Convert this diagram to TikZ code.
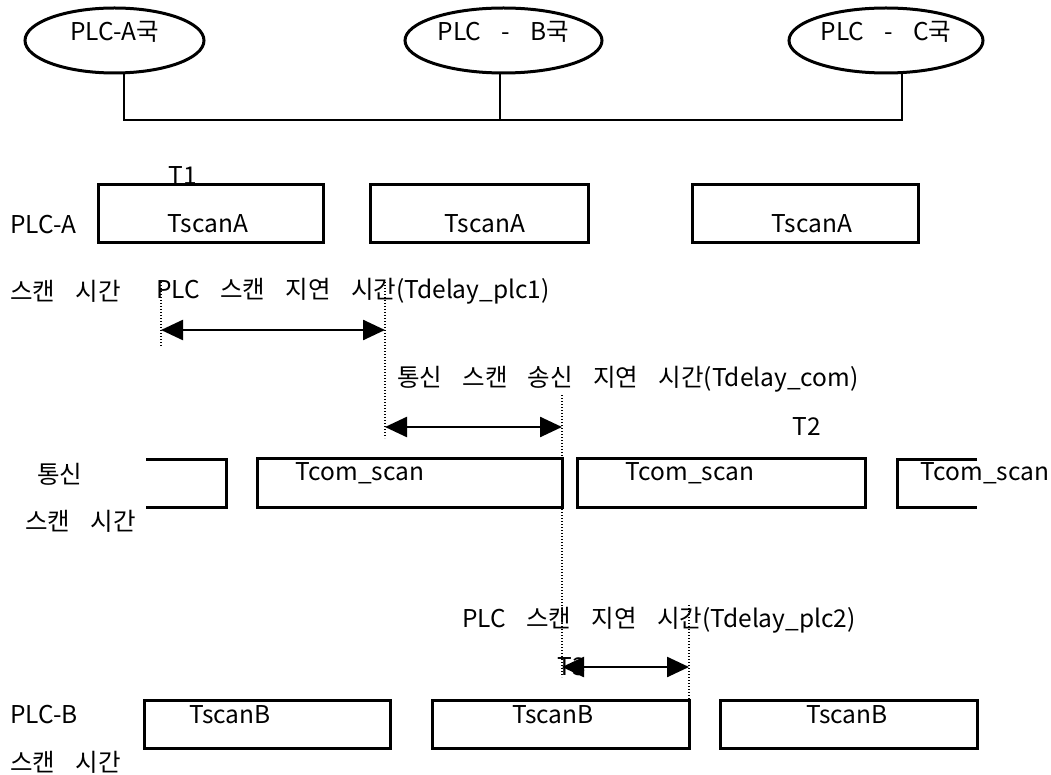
\documentclass[tikz,border=0pt]{standalone}
\usepackage{fontspec}
\setmainfont[WordSpace=3.7]{Noto Sans CJK KR}
\usepackage{tikz}
\usetikzlibrary{shapes.geometric, arrows.meta, positioning}

\begin{document}
\begin{tikzpicture}[
    x=1pt, y=-1pt,
    font=\fontsize{24.5}{29}\selectfont,
    station/.style={ellipse, draw=black, line width=3pt, inner sep=0pt,
                    minimum height=65pt, text height=8pt, text depth=8pt},
    frame/.style={draw=black, line width=3pt},
    scanbox/.style={rectangle, frame, inner sep=0pt},
    txt/.style={inner sep=0pt, text height=17.6pt, text depth=0pt},
    bus/.style={line width=1.8pt},
    marker/.style={line width=1.1pt, dash pattern=on 1.2pt off 1.8pt},
    span/.style={{Triangle[length=22pt,width=20pt]}-{Triangle[length=22pt,width=20pt]},
                 line width=2.5pt}
]
\useasboundingbox (0,0) rectangle (1051,775);

% stations and the network line
\node[station, minimum width=179pt] (staA) at (114.5,40.5) {PLC-A국};
\node[station, minimum width=197pt] (staB) at (503.5,40.5) {PLC - B국};
\node[station, minimum width=194pt] (staC) at (886,40.5) {PLC - C국};

\coordinate (tapA) at (124,120);
\coordinate (tapB) at (500,120);
\coordinate (tapC) at (902,120);
\draw[bus] (staA.south -| tapA) -- (tapA) -- (tapC) -- (staC.south -| tapC);
\draw[bus] (staB.south -| tapB) -- (tapB);

% PLC-A scan
\node[txt, anchor=west] (plcA) at (10,225) {PLC-A};
\node[txt, anchor=west] (plcAsub) at (10,292) {스캔 시간};
\node[scanbox, minimum width=225pt, minimum height=58pt] (a1) at (210.5,214) {};
\node[scanbox, minimum width=218pt, minimum height=58pt] (a2) at (479,214) {};
\node[scanbox, minimum width=226pt, minimum height=58pt] (a3) at (805,214) {};
\node[txt] (a1t) at (208,224) {TscanA};
\node[txt] (a2t) at (485,224) {TscanA};
\node[txt] (a3t) at (812,224) {TscanA};
\node[txt] (t1) at (183,176) {T1};

% communication scan
\node[txt, anchor=west] (com) at (37,475) {통신};
\node[txt, anchor=west] (comsub) at (25,522) {스캔 시간};
\draw[frame] (146,459) -- (226,459) -- (226,507) -- (146,507);
\node[scanbox, minimum width=305pt, minimum height=49pt] (c2) at (409.5,482.5) {};
\node[scanbox, minimum width=288pt, minimum height=49pt] (c3) at (721,482.5) {};
\draw[frame] (977,459) -- (897,459) -- (897,507) -- (977,507);
\node[txt] (c2t) at (360,472) {Tcom\_scan};
\node[txt] (c3t) at (690,472) {Tcom\_scan};
\node[txt] (c4t) at (985,472) {Tcom\_scan};
\node[txt] (t2) at (807,427) {T2};

% PLC-B scan
\node[txt, anchor=west] (plcB) at (10,715) {PLC-B};
\node[txt, anchor=west] (plcBsub) at (10,763) {스캔 시간};
\node[scanbox, minimum width=246pt, minimum height=48pt] (b1) at (267,724) {};
\node[scanbox, minimum width=257pt, minimum height=48pt] (b2) at (560.5,724) {};
\node[scanbox, minimum width=257pt, minimum height=48pt] (b3) at (848.5,724) {};
\node[txt] (b1t) at (230,715) {TscanB};
\node[txt] (b2t) at (553,715) {TscanB};
\node[txt] (b3t) at (847,715) {TscanB};

% delay labels
\node[txt, anchor=west] (dplc1) at (156,290) {PLC 스캔 지연 시간(Tdelay\_plc1)};
\node[txt, anchor=west] (dcom) at (397,378) {통신 스캔 송신 지연 시간(Tdelay\_com)};
\node[txt, anchor=west] (dplc2) at (462,619) {PLC 스캔 지연 시간(Tdelay\_plc2)};
\node[txt] (t3) at (572,667) {T3};

% time marks
\coordinate (m1) at (161,330);
\coordinate (m2) at (385,330);
\coordinate (m3) at (385,427);
\coordinate (m4) at (562,427);
\coordinate (m5) at (562,667);
\coordinate (m6) at (689,667);
\draw[marker] (161,282) -- (161,346);
\draw[marker] (385,282) -- (385,438);
\draw[marker] (562,395) -- (562,677);
\draw[marker] (689,605) -- (689,700);

\draw[span] (m1) -- (m2);
\draw[span] (m3) -- (m4);
\draw[span] (m5) -- (m6);
\end{tikzpicture}
\end{document}
